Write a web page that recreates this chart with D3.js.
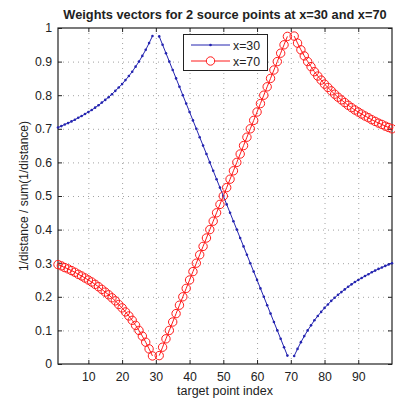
<!DOCTYPE html>
<html>
  <head>
    <title>Weights vectors</title>
    <script src="https://d3js.org/d3.v7.min.js"></script>
    <style>
      body { margin: 0; background: #fff; }
      text { font-family: "Liberation Sans", Arial, sans-serif; fill: #222; }
    </style>
  </head>
  <body>
    <svg width="395" height="399"></svg>
    <script>
      // target point index 1..100, null where distance is zero
      const xs = d3.range(1, 101);
      const w30 = [
        0.704, 0.708, 0.713, 0.717, 0.722, 0.727, 0.733, 0.738, 0.744, 0.750,
        0.756, 0.763, 0.770, 0.778, 0.786, 0.794, 0.803, 0.813, 0.823, 0.833,
        0.845, 0.857, 0.870, 0.885, 0.900, 0.917, 0.935, 0.955, 0.976, null,
        0.975, 0.950, 0.925, 0.900, 0.875, 0.850, 0.825, 0.800, 0.775, 0.750,
        0.725, 0.700, 0.675, 0.650, 0.625, 0.600, 0.575, 0.550, 0.525, 0.500,
        0.475, 0.450, 0.425, 0.400, 0.375, 0.350, 0.325, 0.300, 0.275, 0.250,
        0.225, 0.200, 0.175, 0.150, 0.125, 0.100, 0.075, 0.050, 0.025, null,
        0.024, 0.045, 0.065, 0.083, 0.100, 0.115, 0.130, 0.143, 0.155, 0.167,
        0.177, 0.188, 0.197, 0.206, 0.214, 0.222, 0.230, 0.237, 0.244, 0.250,
        0.256, 0.262, 0.267, 0.273, 0.278, 0.283, 0.287, 0.292, 0.296, 0.300
      ];
      const w70 = [
        0.296, 0.292, 0.287, 0.283, 0.278, 0.273, 0.267, 0.262, 0.256, 0.250,
        0.244, 0.237, 0.230, 0.222, 0.214, 0.206, 0.197, 0.188, 0.177, 0.167,
        0.155, 0.143, 0.130, 0.115, 0.100, 0.083, 0.065, 0.045, 0.024, null,
        0.025, 0.050, 0.075, 0.100, 0.125, 0.150, 0.175, 0.200, 0.225, 0.250,
        0.275, 0.300, 0.325, 0.350, 0.375, 0.400, 0.425, 0.450, 0.475, 0.500,
        0.525, 0.550, 0.575, 0.600, 0.625, 0.650, 0.675, 0.700, 0.725, 0.750,
        0.775, 0.800, 0.825, 0.850, 0.875, 0.900, 0.925, 0.950, 0.975, null,
        0.976, 0.955, 0.935, 0.917, 0.900, 0.885, 0.870, 0.857, 0.845, 0.833,
        0.823, 0.813, 0.803, 0.794, 0.786, 0.778, 0.770, 0.763, 0.756, 0.750,
        0.744, 0.738, 0.733, 0.727, 0.722, 0.717, 0.713, 0.708, 0.704, 0.700
      ];
      const xTicks = [10, 20, 30, 40, 50, 60, 70, 80, 90];
      const yTicks = [0, 0.1, 0.2, 0.3, 0.4, 0.5, 0.6, 0.7, 0.8, 0.9, 1];
      const seriesNames = ["x=30", "x=70"];

      const svg = d3.select("svg");
      const pLeft = 58, pRight = 392, pTop = 28, pBottom = 364;

      const xScale = d3.scaleLinear().domain([1, 100]).range([pLeft, pRight]);
      const yScale = d3.scaleLinear().domain([0, 1]).range([pBottom, pTop]);

      // grid
      const grid = svg.append("g").attr("stroke", "#8a8a8a").attr("stroke-dasharray", "1,4").attr("stroke-width", 0.8);
      grid.selectAll(".gx").data(xTicks).enter().append("line")
        .attr("x1", d => xScale(d) + 0.5).attr("x2", d => xScale(d) + 0.5)
        .attr("y1", pTop).attr("y2", pBottom);
      grid.selectAll(".gy").data(yTicks.slice(1, -1)).enter().append("line")
        .attr("y1", d => yScale(d) + 0.5).attr("y2", d => yScale(d) + 0.5)
        .attr("x1", pLeft).attr("x2", pRight);

      // axes with inward ticks
      const xAxis = svg.append("g").attr("transform", `translate(0,${pBottom})`)
        .call(d3.axisBottom(xScale).tickValues(xTicks).tickSizeInner(-4).tickSizeOuter(0).tickPadding(8));
      const xAxisTop = svg.append("g").attr("transform", `translate(0,${pTop})`)
        .call(d3.axisTop(xScale).tickValues(xTicks).tickSizeInner(-4).tickSizeOuter(0).tickFormat(""));
      const yAxis = svg.append("g").attr("transform", `translate(${pLeft},0)`)
        .call(d3.axisLeft(yScale).tickValues(yTicks).tickSizeInner(-4).tickSizeOuter(0).tickPadding(6).tickFormat(d3.format("")));
      const yAxisRight = svg.append("g").attr("transform", `translate(${pRight},0)`)
        .call(d3.axisRight(yScale).tickValues(yTicks).tickSizeInner(-4).tickSizeOuter(0).tickFormat(""));
      [xAxis, xAxisTop, yAxis, yAxisRight].forEach(a => {
        a.select(".domain").remove();
        a.selectAll("line").attr("stroke", "#222");
        a.selectAll("text").attr("font-size", 12.3).attr("font-family", "Liberation Sans, Arial, sans-serif").attr("fill", "#222");
      });

      svg.append("rect").attr("x", pLeft).attr("y", pTop)
        .attr("width", pRight - pLeft).attr("height", pBottom - pTop)
        .attr("fill", "none").attr("stroke", "#222").attr("stroke-width", 1.2);

      const line = d3.line().defined(d => d[1] !== null)
        .x(d => xScale(d[0])).y(d => yScale(d[1]));

      const blue = "#2424b0", red = "#ff1a1a";
      const d30 = xs.map((x, i) => [x, w30[i]]);
      const d70 = xs.map((x, i) => [x, w70[i]]);

      svg.append("path").datum(d30).attr("d", line)
        .attr("fill", "none").attr("stroke", blue).attr("stroke-width", 1);
      svg.append("g").selectAll("circle").data(d30.filter(d => d[1] !== null)).enter().append("circle")
        .attr("cx", d => xScale(d[0])).attr("cy", d => yScale(d[1])).attr("r", 1.3).attr("fill", blue);

      svg.append("path").datum(d70).attr("d", line)
        .attr("fill", "none").attr("stroke", red).attr("stroke-width", 1);
      svg.append("g").selectAll("circle").data(d70.filter(d => d[1] !== null)).enter().append("circle")
        .attr("cx", d => xScale(d[0])).attr("cy", d => yScale(d[1])).attr("r", 4.2)
        .attr("fill", "none").attr("stroke", red).attr("stroke-width", 1);

      // legend
      const lg = svg.append("g");
      lg.append("rect").attr("x", 183.5).attr("y", 34.5).attr("width", 84).attr("height", 36)
        .attr("fill", "#fff").attr("stroke", "#222").attr("stroke-width", 1);
      const rows = [45, 61];
      lg.append("line").attr("x1", 191).attr("x2", 230).attr("y1", rows[0]).attr("y2", rows[0]).attr("stroke", blue);
      lg.append("circle").attr("cx", 210.5).attr("cy", rows[0]).attr("r", 1.3).attr("fill", blue);
      lg.append("line").attr("x1", 191).attr("x2", 230).attr("y1", rows[1]).attr("y2", rows[1]).attr("stroke", red);
      lg.append("circle").attr("cx", 210.5).attr("cy", rows[1]).attr("r", 4.2).attr("fill", "#fff").attr("stroke", red);
      lg.selectAll("text").data(seriesNames).enter().append("text")
        .attr("x", 233).attr("y", (d, i) => rows[i] + 4.5).attr("font-size", 12.3).text(d => d);

      // titles
      svg.append("text").attr("x", (pLeft + pRight) / 2).attr("y", 19).attr("text-anchor", "middle")
        .attr("font-size", 12.8).attr("font-weight", "bold").text("Weights vectors for 2 source points at x=30 and x=70");
      svg.append("text").attr("x", (pLeft + pRight) / 2).attr("y", 395).attr("text-anchor", "middle")
        .attr("font-size", 12.5).text("target point index");
      svg.append("text").attr("transform", `translate(28,${(pTop + pBottom) / 2}) rotate(-90)`)
        .attr("text-anchor", "middle").attr("font-size", 12).text("1/distance / sum(1/distance)");
    </script>
  </body>
</html>
